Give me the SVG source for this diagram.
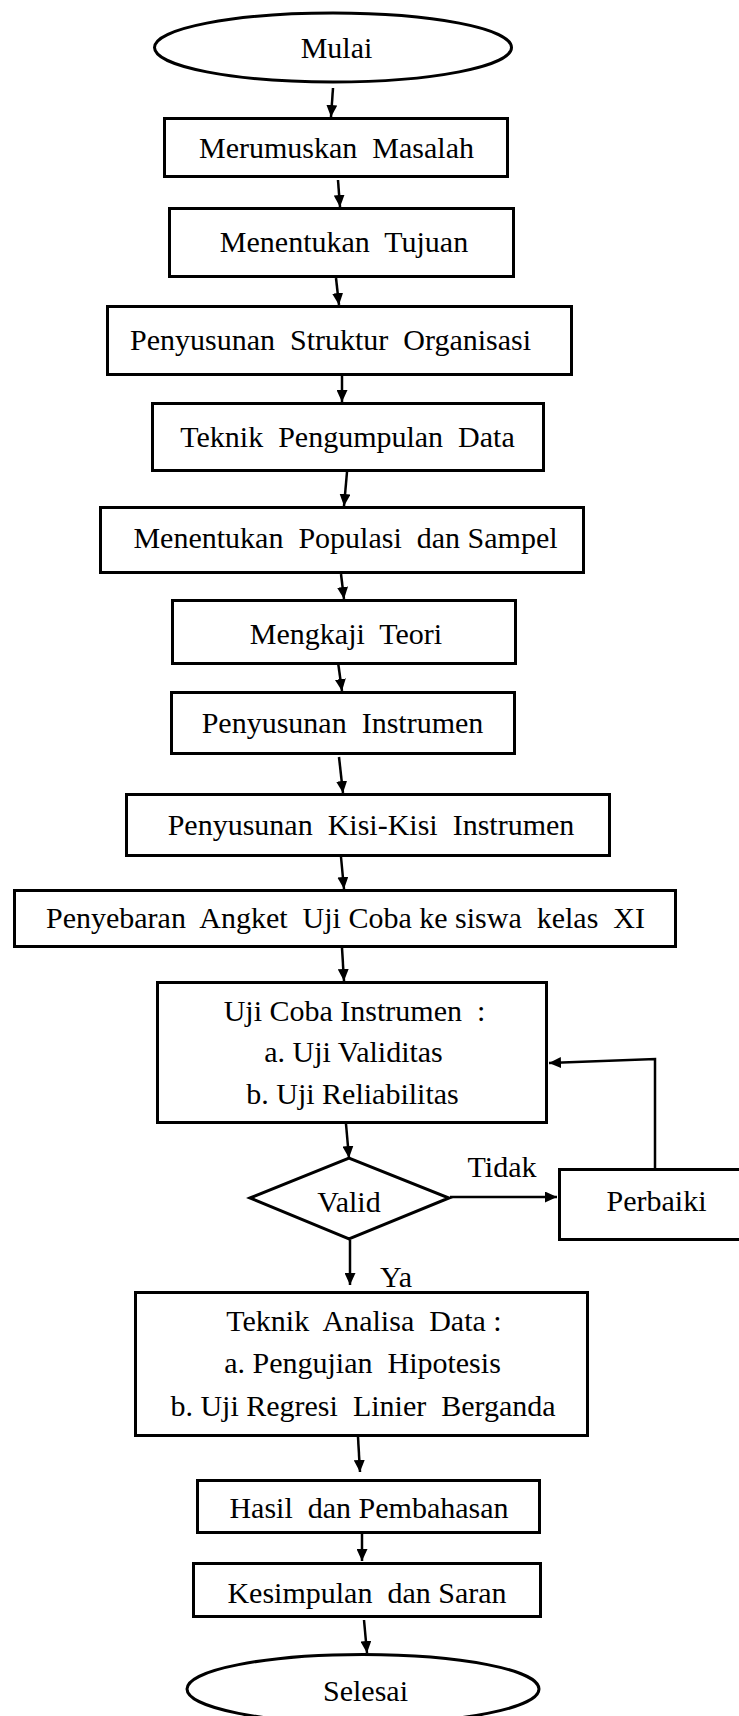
<svg xmlns="http://www.w3.org/2000/svg" width="739" height="1716" viewBox="0 0 739 1716">
<defs>
<style>
.box{fill:#fff;stroke:#000;stroke-width:3}
.t{font-family:"Liberation Serif","Times New Roman",serif;font-size:30px;fill:#000;text-anchor:middle}
.c{fill:none;stroke:#000;stroke-width:2.5}
</style>
<marker id="ah" markerUnits="userSpaceOnUse" markerWidth="13" markerHeight="11" refX="12" refY="5.5" orient="auto">
<path d="M0,0 L12,5.5 L0,11 z" fill="#000"/>
</marker>
</defs>
<rect width="739" height="1716" fill="#fff"/>
<g id="connectors">
<line class="c" x1="333" y1="88" x2="331" y2="117" marker-end="url(#ah)"/>
<line class="c" x1="338" y1="180" x2="340" y2="207" marker-end="url(#ah)"/>
<line class="c" x1="336" y1="278" x2="339" y2="305" marker-end="url(#ah)"/>
<line class="c" x1="342" y1="376" x2="342" y2="402" marker-end="url(#ah)"/>
<line class="c" x1="347" y1="472" x2="344" y2="506" marker-end="url(#ah)"/>
<line class="c" x1="341" y1="574" x2="344" y2="599" marker-end="url(#ah)"/>
<line class="c" x1="338" y1="662" x2="342" y2="691" marker-end="url(#ah)"/>
<line class="c" x1="339" y1="757" x2="343" y2="793" marker-end="url(#ah)"/>
<line class="c" x1="341" y1="857" x2="344" y2="889" marker-end="url(#ah)"/>
<line class="c" x1="342" y1="948" x2="344" y2="981" marker-end="url(#ah)"/>
<line class="c" x1="346" y1="1124" x2="349" y2="1158" marker-end="url(#ah)"/>
<line class="c" x1="450" y1="1197" x2="557" y2="1197" marker-end="url(#ah)"/>
<polyline class="c" points="655,1168 655,1059 549,1063" marker-end="url(#ah)"/>
<line class="c" x1="350" y1="1240" x2="350" y2="1285" marker-end="url(#ah)"/>
<line class="c" x1="358" y1="1437" x2="360" y2="1472" marker-end="url(#ah)"/>
<line class="c" x1="362" y1="1529" x2="362" y2="1561" marker-end="url(#ah)"/>
<line class="c" x1="364" y1="1620" x2="367" y2="1653" marker-end="url(#ah)"/>
</g>
<g id="mulai"><ellipse class="box" cx="333" cy="47.5" rx="178.5" ry="34.5"/><text class="t" x="336.5" y="58">Mulai</text></g>
<g id="merumuskan"><rect class="box" x="164.5" y="118.5" width="343" height="58"/><text class="t" xml:space="preserve" x="336.5" y="158">Merumuskan  Masalah</text></g>
<g id="tujuan"><rect class="box" x="169.5" y="208.5" width="344" height="68"/><text class="t" xml:space="preserve" x="344" y="252">Menentukan  Tujuan</text></g>
<g id="struktur"><rect class="box" x="107.5" y="306.5" width="464" height="68"/><text class="t" xml:space="preserve" x="330.5" y="350">Penyusunan  Struktur  Organisasi</text></g>
<g id="pengumpulan"><rect class="box" x="152.5" y="403.5" width="391" height="67"/><text class="t" xml:space="preserve" x="347.5" y="447">Teknik  Pengumpulan  Data</text></g>
<g id="populasi"><rect class="box" x="100.5" y="507.5" width="483" height="65"/><text class="t" xml:space="preserve" x="345.5" y="548">Menentukan  Populasi  dan Sampel</text></g>
<g id="teori"><rect class="box" x="172.5" y="600.5" width="343" height="63"/><text class="t" xml:space="preserve" x="346" y="644">Mengkaji  Teori</text></g>
<g id="instrumen"><rect class="box" x="171.5" y="692.5" width="343" height="61"/><text class="t" xml:space="preserve" x="342.5" y="733">Penyusunan  Instrumen</text></g>
<g id="kisi"><rect class="box" x="126.5" y="794.5" width="483" height="61"/><text class="t" xml:space="preserve" x="371" y="835">Penyusunan  Kisi-Kisi  Instrumen</text></g>
<g id="penyebaran"><rect class="box" x="14.5" y="890.5" width="661" height="56"/><text class="t" xml:space="preserve" x="345.5" y="928">Penyebaran  Angket  Uji Coba ke siswa  kelas  XI</text></g>
<g id="ujicoba"><rect class="box" x="157.5" y="982.5" width="389" height="140"/>
<text class="t" xml:space="preserve" x="354.5" y="1021">Uji Coba Instrumen  :</text>
<text class="t" x="353.5" y="1062">a. Uji Validitas</text>
<text class="t" x="352.5" y="1104">b. Uji Reliabilitas</text></g>
<g id="valid"><polygon class="box" points="250,1198 349,1158 449,1198 349,1239"/><text class="t" x="349" y="1212">Valid</text></g>
<g id="label-tidak"><text class="t" x="502" y="1177">Tidak</text></g>
<g id="perbaiki"><rect class="box" x="559.5" y="1169.5" width="200" height="70"/><text class="t" x="656.5" y="1211">Perbaiki</text></g>
<g id="label-ya"><text class="t" x="396" y="1287">Ya</text></g>
<g id="analisa"><rect class="box" x="135.5" y="1292.5" width="452" height="143"/>
<text class="t" xml:space="preserve" x="364" y="1331">Teknik  Analisa  Data :</text>
<text class="t" xml:space="preserve" x="362.5" y="1373">a. Pengujian  Hipotesis</text>
<text class="t" xml:space="preserve" x="363" y="1416">b. Uji Regresi  Linier  Berganda</text></g>
<g id="hasil"><rect class="box" x="197.5" y="1480.5" width="342" height="52"/><text class="t" xml:space="preserve" x="369" y="1518">Hasil  dan Pembahasan</text></g>
<g id="kesimpulan"><rect class="box" x="193.5" y="1563.5" width="347" height="53"/><text class="t" xml:space="preserve" x="367" y="1603">Kesimpulan  dan Saran</text></g>
<g id="selesai"><ellipse class="box" cx="363" cy="1689" rx="176" ry="34.5"/><text class="t" x="365.5" y="1701">Selesai</text></g>
</svg>
